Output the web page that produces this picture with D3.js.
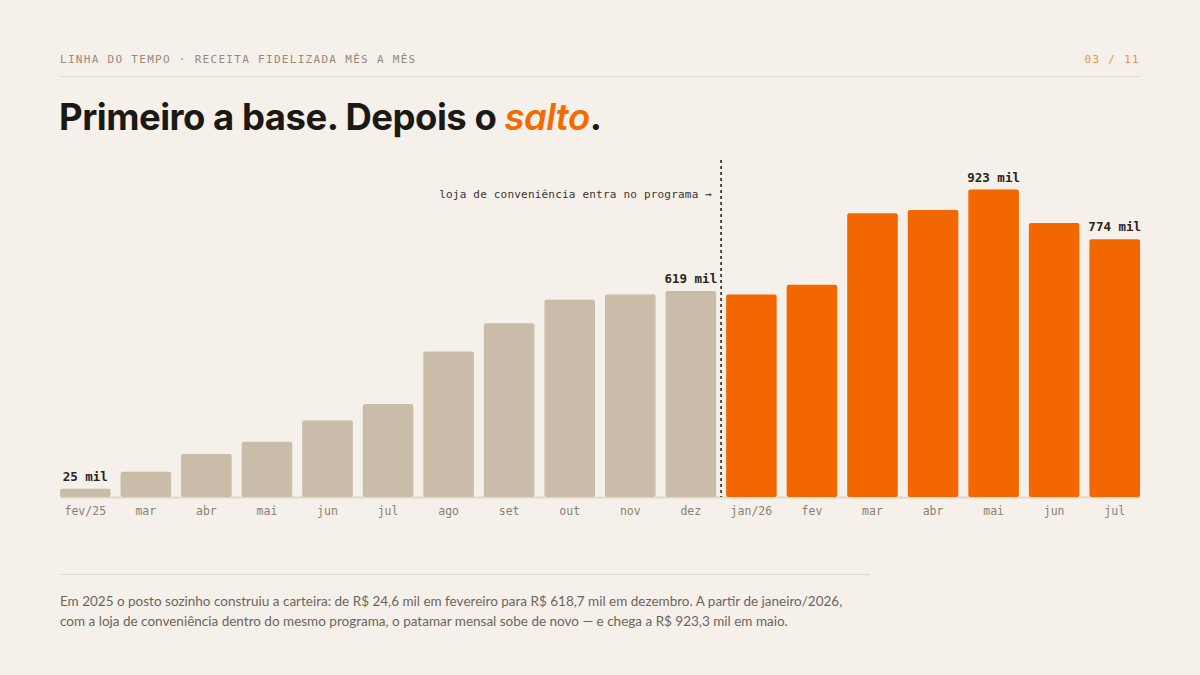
<!DOCTYPE html>
<html lang="pt-BR">
<head>
<meta charset="utf-8">
<script src="https://cdn.jsdelivr.net/npm/d3@7"></script>
<style>
  html, body { margin: 0; padding: 0; background: #f5f0e9; }
  svg { display: block; }
  .mono { font-family: "DejaVu Sans Mono", "Liberation Mono", monospace; }
</style>
</head>
<body>
<div id="chart"></div>
<script>
// months shown on the x axis
const months = ["fev/25", "mar", "abr", "mai", "jun", "jul", "ago", "set", "out", "nov", "dez",
                "jan/26", "fev", "mar ", "abr ", "mai ", "jun ", "jul "];
// revenue per month, R$ mil
const revenue = [24.6, 76, 129, 166, 230, 279, 437, 522, 592, 608, 618.7,
                 608, 637, 852, 862, 923.3, 823, 774];
// 0 = posto only, 1 = posto + loja de conveniência
const phase = [0, 0, 0, 0, 0, 0, 0, 0, 0, 0, 0, 1, 1, 1, 1, 1, 1, 1];
// which bars get a value label
const labelled = ["fev/25", "dez", "mai ", "jul "];

const W = 1200, H = 675;
const margin = { top: 160, right: 60, bottom: 178, left: 60 };
const innerW = W - margin.left - margin.right;
const innerH = H - margin.top - margin.bottom;

const data = months.map((m, i) => ({ month: m, value: revenue[i], phase: phase[i] }));

const svg = d3.select("#chart").append("svg")
  .attr("width", W)
  .attr("height", H)
  .attr("viewBox", `0 0 ${W} ${H}`);

svg.append("rect").attr("width", W).attr("height", H).attr("fill", "#f5f0e9");

// header
svg.append("text")
  .attr("class", "mono")
  .attr("x", 60).attr("y", 63)
  .attr("font-size", 11)
  .attr("letter-spacing", 1.3)
  .attr("fill", "#968a7e")
  .text("LINHA DO TEMPO · RECEITA FIDELIZADA MÊS A MÊS");

svg.append("text")
  .attr("class", "mono")
  .attr("x", 1140).attr("y", 63)
  .attr("text-anchor", "end")
  .attr("font-size", 11)
  .attr("letter-spacing", 1.3)
  .attr("fill", "#f0904a")
  .text("03 / 11");

svg.append("line")
  .attr("x1", 60).attr("x2", 1140)
  .attr("y1", 76.5).attr("y2", 76.5)
  .attr("stroke", "#e3d9ca");

// title
const title = svg.append("text")
  .attr("x", 59).attr("y", 130)
  .attr("font-family", "Inter, 'Noto Sans', sans-serif")
  .attr("font-size", 36.5)
  .attr("font-weight", 700)
  .attr("letter-spacing", -0.5)
  .attr("fill", "#1c1915");
title.append("tspan").text("Primeiro a base. Depois o ");
title.append("tspan").attr("fill", "#f26a00").attr("font-style", "italic").attr("font-weight", 600).text("salto");
title.append("tspan").text(".");

const g = svg.append("g").attr("transform", `translate(${margin.left},${margin.top})`);

const x = d3.scaleBand()
  .domain(months)
  .range([0, innerW])
  .paddingInner(0.165)
  .paddingOuter(0);

const y = d3.scaleLinear()
  .domain([0, 923.3])
  .range([innerH, innerH - 307.5]);

// baseline
g.append("line")
  .attr("x1", 0).attr("x2", innerW)
  .attr("y1", innerH + 0.5).attr("y2", innerH + 0.5)
  .attr("stroke", "#e2d8c9")
  .attr("stroke-width", 2);

// bars
g.selectAll("rect.bar")
  .data(data)
  .enter()
  .append("rect")
  .attr("class", "bar")
  .attr("x", d => x(d.month))
  .attr("y", d => y(d.value))
  .attr("width", x.bandwidth())
  .attr("height", d => y(0) - y(d.value))
  .attr("rx", 2)
  .attr("fill", d => d.phase ? "#f26700" : "#c9bca8");

// value labels
g.selectAll("text.val")
  .data(data.filter(d => labelled.includes(d.month)))
  .enter()
  .append("text")
  .attr("class", "val mono")
  .attr("x", d => x(d.month) + x.bandwidth() / 2)
  .attr("y", d => y(d.value) - 8)
  .attr("text-anchor", "middle")
  .attr("font-size", 12.5)
  .attr("font-weight", 700)
  .attr("fill", "#2a2520")
  .text(d => Math.round(d.value) + " mil");

// x axis labels
const xAxis = d3.axisBottom(x).tickSize(0).tickPadding(10).tickFormat(d => d.trim());
g.append("g")
  .attr("transform", `translate(0,${innerH})`)
  .call(xAxis)
  .call(s => s.select(".domain").remove())
  .call(s => s.selectAll("text")
    .attr("class", "mono")
    .attr("font-size", 11.5)
    .attr("fill", "#8a8075"));

// divider between phases
const divX = (x("dez") + x.bandwidth() + x("jan/26")) / 2;
g.append("line")
  .attr("x1", divX).attr("x2", divX)
  .attr("y1", 0).attr("y2", innerH)
  .attr("stroke", "#2a2520")
  .attr("stroke-width", 1.6)
  .attr("stroke-dasharray", "3 3");

g.append("text")
  .attr("class", "mono")
  .attr("x", divX - 9)
  .attr("y", 38)
  .attr("text-anchor", "end")
  .attr("font-size", 11)
  .attr("letter-spacing", 0.2)
  .attr("fill", "#3b3530")
  .text("loja de conveniência entra no programa →");

// footer
svg.append("line")
  .attr("x1", 60).attr("x2", 870)
  .attr("y1", 574.5).attr("y2", 574.5)
  .attr("stroke", "#e3dacb");

const foot = svg.append("text")
  .attr("x", 60).attr("y", 606)
  .attr("font-family", "Lato, 'Noto Sans', sans-serif")
  .attr("font-size", 13.5)
  .attr("fill", "#6e655c");
foot.append("tspan").attr("x", 60).text("Em 2025 o posto sozinho construiu a carteira: de R$ 24,6 mil em fevereiro para R$ 618,7 mil em dezembro. A partir de janeiro/2026,");
foot.append("tspan").attr("x", 60).attr("dy", 20).text("com a loja de conveniência dentro do mesmo programa, o patamar mensal sobe de novo — e chega a R$ 923,3 mil em maio.");
</script>
</body>
</html>
